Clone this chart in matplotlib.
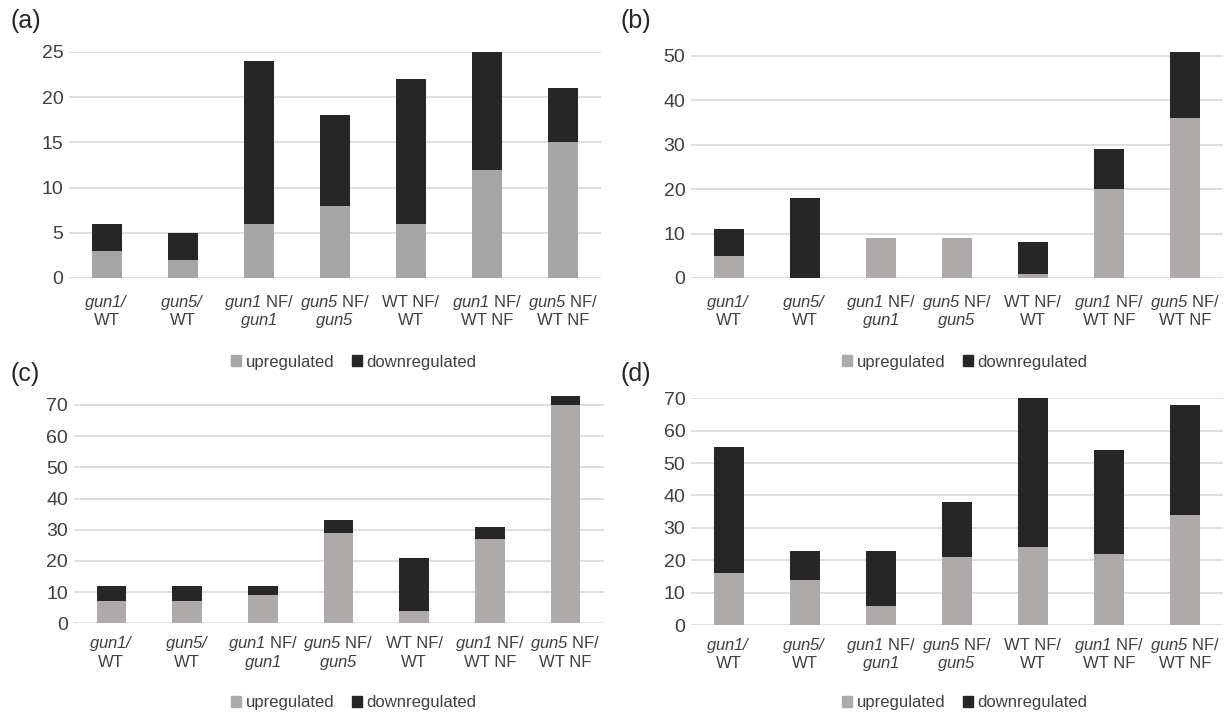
import numpy as np
import matplotlib.pyplot as plt
from matplotlib.patches import Patch

plt.rcParams['font.family'] = ['Liberation Sans', 'DejaVu Sans']
plt.rcParams['mathtext.fontset'] = 'custom'
plt.rcParams['mathtext.rm'] = 'Liberation Sans'
# sf se usa como cursiva completa (incluye los digitos)
plt.rcParams['mathtext.sf'] = 'Liberation Sans:italic'

# etiquetas de las comparaciones, dos renglones (cursiva para los mutantes)
linea1 = ['$\\mathsf{gun1/}$', '$\\mathsf{gun5/}$', '$\\mathsf{gun1}$ NF/',
          '$\\mathsf{gun5}$ NF/', 'WT NF/', '$\\mathsf{gun1}$ NF/',
          '$\\mathsf{gun5}$ NF/']
linea2 = ['WT', 'WT', '$\\mathsf{gun1}$', '$\\mathsf{gun5}$', 'WT',
          'WT NF', 'WT NF']

# genes regulados por panel
up_a = [3, 2, 6, 8, 6, 12, 15]
down_a = [3, 3, 18, 10, 16, 13, 6]

up_b = [5, 0, 9, 9, 1, 20, 36]
down_b = [6, 18, 0, 0, 7, 9, 15]

up_c = [7, 7, 9, 29, 4, 27, 70]
down_c = [5, 5, 3, 4, 17, 4, 3]

up_d = [16, 14, 6, 21, 24, 22, 34]
down_d = [39, 9, 17, 17, 46, 32, 34]

W, H = 1226, 717
fig = plt.figure(figsize=(W / 100, H / 100), dpi=100)

color_texto = '#404040'
color_down = '#262626'


def ax_px(x0, x1, y_top, y_bottom):
    # convertir pixeles a fracciones de la figura
    return [x0 / W, 1 - y_bottom / H, (x1 - x0) / W, (y_bottom - y_top) / H]


def panel(rect, up, down, color_up, ylim, yticks, letra, pos_letra,
          pos_leyenda, sep_px):
    ax = fig.add_axes(rect)
    x = np.arange(len(up))
    ax.bar(x, up, width=0.39, color=color_up, zorder=3)
    ax.bar(x, down, width=0.39, bottom=up, color=color_down, zorder=3)
    ax.set_xlim(-0.5, len(up) - 0.5)
    ax.set_ylim(*ylim)
    ax.set_yticks(yticks)
    ax.yaxis.grid(True, color='#d9d9d9', linewidth=1.2, zorder=0)
    ax.set_xticks([])
    ax.tick_params(axis='y', labelsize=14, labelcolor=color_texto, length=0, pad=4)
    for s in ax.spines.values():
        s.set_visible(False)

    # etiquetas del eje x en dos renglones con separacion fija
    for i in x:
        for k, txt in enumerate([linea1[i], linea2[i]]):
            ax.annotate(txt, xy=(i, 0), xycoords=('data', 'axes fraction'),
                        xytext=(0, -(sep_px + 18.3 * k) * 0.72),
                        textcoords='offset points', ha='center', va='baseline',
                        fontsize=12, color=color_texto)

    fig.text(pos_letra[0] / W, 1 - pos_letra[1] / H, letra, fontsize=18,
             color='#262626', va='center', ha='left')
    handles = [Patch(color=color_up, label='upregulated'),
               Patch(color=color_down, label='downregulated')]
    fig.legend(handles=handles, loc='center', ncol=2, frameon=False,
               bbox_to_anchor=(pos_leyenda[0] / W, 1 - pos_leyenda[1] / H),
               fontsize=12, handlelength=0.6, handleheight=0.6,
               handletextpad=0.3, columnspacing=1.0, labelcolor=color_texto,
               borderpad=0.1)
    return ax


panel(ax_px(69, 601, 52, 278), up_a, down_a, '#a5a5a5', (0, 25),
      range(0, 26, 5), '(a)', (10, 21), (354, 362), 29)
panel(ax_px(691, 1223, 55 - 3.5, 278), up_b, down_b, '#aeaaaa', (0, 51),
      range(0, 51, 10), '(b)', (620, 21), (965, 362), 29)
panel(ax_px(73.5, 603.5, 623.3 - 3.119 * 75, 623.3), up_c, down_c, '#aeaaaa',
      (0, 75), range(0, 71, 10), '(c)', (10, 374), (354, 703), 25)
panel(ax_px(691, 1223, 398.3, 625), up_d, down_d, '#aeaaaa', (0, 70),
      range(0, 71, 10), '(d)', (620, 374), (965, 703), 25)

fig.savefig('out.png', dpi=100)
